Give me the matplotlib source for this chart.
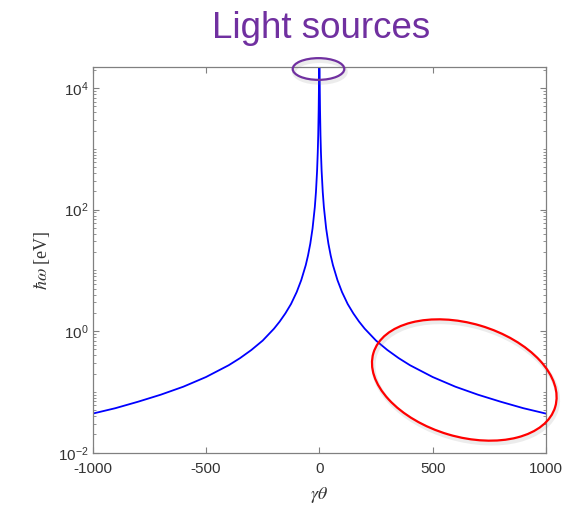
import math
import matplotlib
matplotlib.use("Agg")
import matplotlib.pyplot as plt
from matplotlib.patches import Ellipse
from matplotlib.ticker import FixedLocator, FuncFormatter, NullFormatter
import matplotlib.patheffects as pe

# Data (gamma*theta vs photon energy in eV)
gamma_theta = [-1000, -900, -800, -700, -600, -500, -400, -350, -300, -250,
               -200, -175, -150, -125, -100, -80, -60, -50, -40, -30, -20,
               -15, -10, -7, -5, -3, -2, -1, 0,
               1, 2, 3, 5, 7, 10, 15, 20, 30, 40, 50, 60, 80, 100, 125,
               150, 175, 200, 250, 300, 350, 400, 500, 600, 700, 800, 900, 1000]
energy_eV = [0.044, 0.054, 0.069, 0.090, 0.122, 0.176, 0.275, 0.36, 0.49, 0.70,
             1.1, 1.44, 1.96, 2.8, 4.4, 6.9, 12.2, 17.6, 27.5, 49, 110,
             195, 435, 880, 1690, 4400, 8800, 22000, 44000,
             22000, 8800, 4400, 1690, 880, 435, 195, 110, 49, 27.5, 17.6, 12.2, 6.9, 4.4, 2.8,
             1.96, 1.44, 1.1, 0.70, 0.49, 0.36, 0.275, 0.176, 0.122, 0.090, 0.069, 0.054, 0.044]

x_ticks = [-1000, -500, 0, 500, 1000]
y_ticks = [1e-2, 1e0, 1e2, 1e4]
title_text = "Light sources"

W, H, DPI = 567, 505, 100
fig = plt.figure(figsize=(W / DPI, H / DPI), dpi=DPI)
ax = fig.add_axes([92.7 / W, 1 - 452.7 / H, (546 - 92.7) / W, (452.7 - 67.3) / H])

ax.plot(gamma_theta, energy_eV, color=(0, 0, 1), lw=1.3)
ax.set_yscale("log")
ax.set_xlim(-1000, 1000)
ax.set_ylim(1e-2, 2.2e4)

axis_gray = "#808080"
label_gray = "#333333"
for s in ax.spines.values():
    s.set_color(axis_gray)
    s.set_linewidth(0.9)

ax.xaxis.set_major_locator(FixedLocator(x_ticks))
ax.yaxis.set_major_locator(FixedLocator(y_ticks))
minor = []
for e in range(-2, 5):
    for k in range(1, 10):
        v = k * 10.0 ** e
        if v not in y_ticks and v < 2.2e4:
            minor.append(v)
ax.yaxis.set_minor_locator(FixedLocator(minor))
ax.yaxis.set_minor_formatter(NullFormatter())
ax.xaxis.set_minor_locator(FixedLocator([]))

ax.yaxis.set_major_formatter(FuncFormatter(
    lambda v, p: r"$\mathregular{10^{%d}}$" % round(math.log10(v))))
ax.xaxis.set_major_formatter(FuncFormatter(lambda v, p: "%d" % v))

ax.tick_params(which="both", direction="in", top=True, right=True,
               colors=axis_gray, labelcolor=label_gray, labelsize=11)
ax.tick_params(which="major", length=4.5, width=0.8)
ax.tick_params(which="minor", length=2.5, width=0.6)
for lab in ax.get_xticklabels() + ax.get_yticklabels():
    lab.set_family("Liberation Sans")
ax.tick_params(axis="x", pad=7)
ax.tick_params(axis="y", pad=3)

ax.set_xlabel(r"$\gamma\theta$", fontsize=13, color=label_gray, math_fontfamily="stix", labelpad=6)
ax.set_ylabel(r"$\hbar\omega$ [eV]", fontsize=13, color=label_gray, family="Liberation Serif",
              math_fontfamily="stix", labelpad=4)

fig.text(321 / W, 1 - 38 / H, title_text, ha="center", va="baseline",
         fontsize=26.5, color="#7030A0", family="Liberation Sans")

shadow = [pe.SimpleLineShadow(offset=(1.0, -2.0), shadow_color="gray", alpha=0.15, linewidth=3),
          pe.Normal()]
e1 = Ellipse((318.5 / DPI, (H - 69) / DPI), 51.6 / DPI, 21.7 / DPI, angle=0,
             transform=fig.dpi_scale_trans, fill=False, edgecolor="#7030A0", lw=1.6,
             clip_on=False, path_effects=shadow)
e2 = Ellipse((464.3 / DPI, (H - 380) / DPI), 189.6 / DPI, 113.4 / DPI, angle=-16.5,
             transform=fig.dpi_scale_trans, fill=False, edgecolor="#FF0000", lw=1.6,
             clip_on=False, path_effects=shadow)
fig.add_artist(e1)
fig.add_artist(e2)

fig.savefig("out.png", dpi=DPI)
